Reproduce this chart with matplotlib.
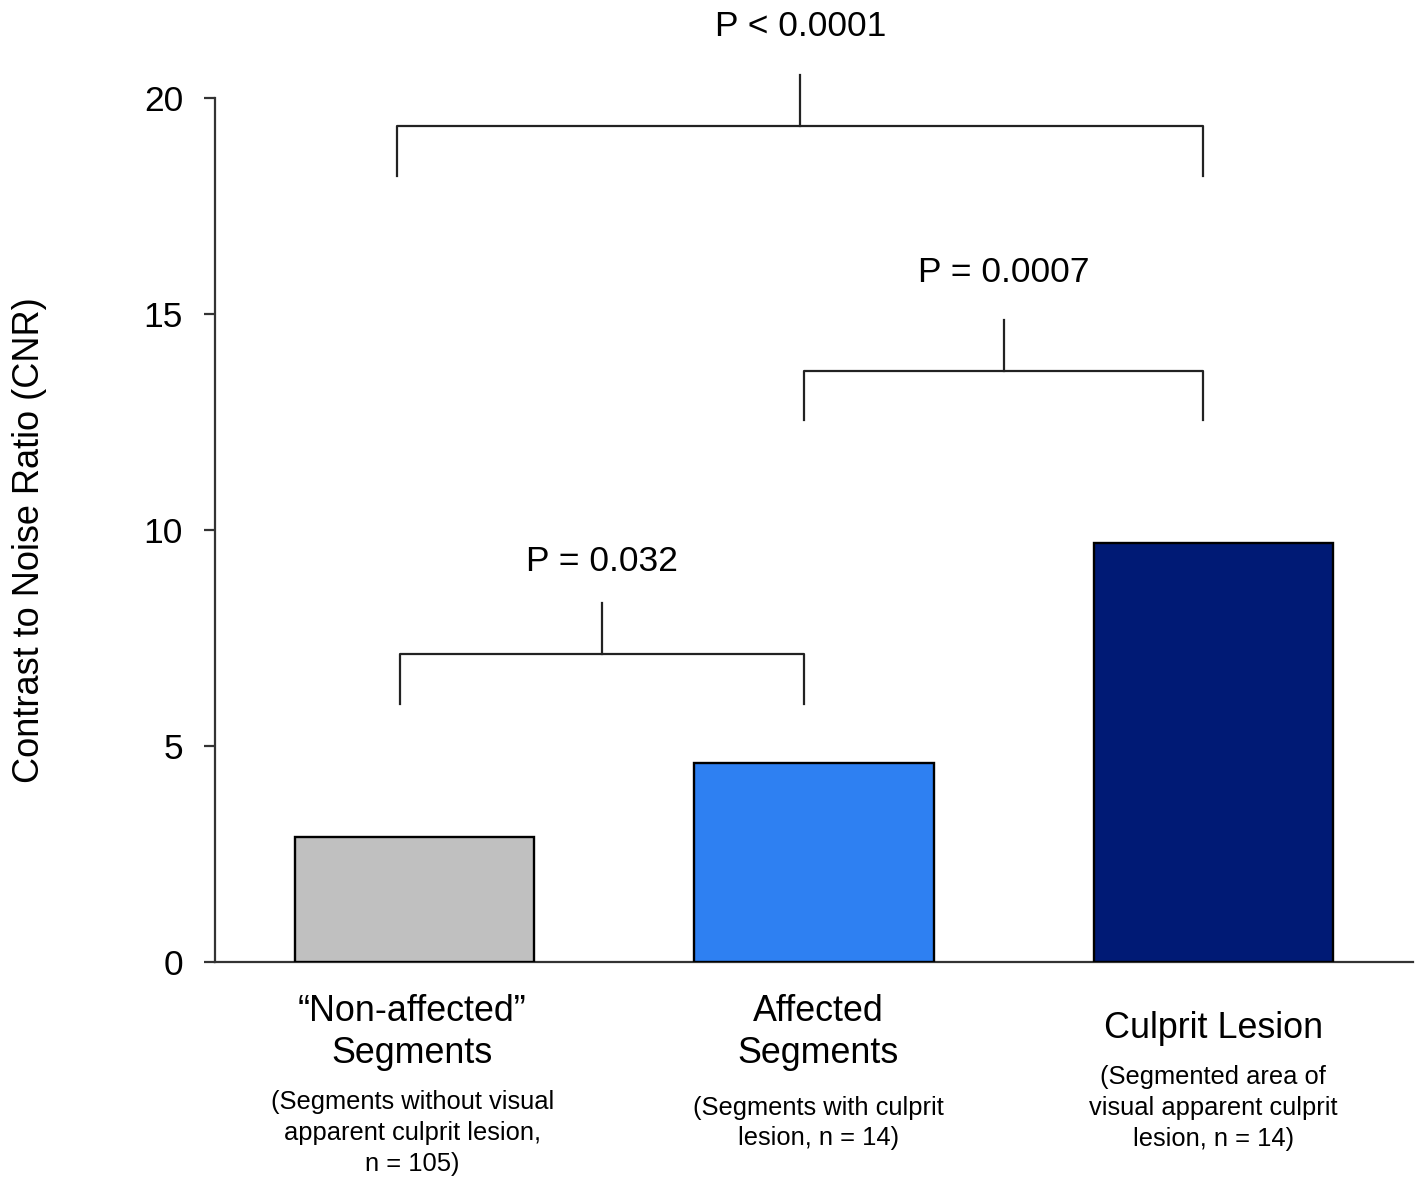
import matplotlib
matplotlib.use("Agg")
import matplotlib.pyplot as plt
from matplotlib.transforms import blended_transform_factory

plt.rcParams['font.family'] = ['Liberation Sans', 'DejaVu Sans']

categories = ['\u201cNon-affected\u201d\nSegments', 'Affected\nSegments', 'Culprit Lesion']
subtitles = ['(Segments without visual\napparent culprit lesion,\nn = 105)',
             '(Segments with culprit\nlesion, n = 14)',
             '(Segmented area of\nvisual apparent culprit\nlesion, n = 14)']
values = [2.9, 4.6, 9.7]
colors = ['#c0c0c0', '#2e80f2', '#001a75']

# significance brackets: (left x, right x, bar y, leg bottom y, top tick y, label y, label)
comparisons = [
    (-0.036, 0.976, 7.13, 5.97, 8.31, 9.26, 'P = 0.032'),
    (0.976, 1.975, 13.68, 12.55, 14.86, 15.97, 'P = 0.0007'),
    (-0.044, 1.975, 19.35, 18.19, 20.53, 21.65, 'P < 0.0001'),
]
yticks = [0, 5, 10, 15, 20]

fig = plt.figure(figsize=(14.19, 11.77), dpi=100)
ax = fig.add_axes([215/1419, 1-962/1177, 1198/1419, 864/1177])

x = list(range(len(values)))
ax.bar(x, values, width=0.6, color=colors, edgecolor='black', linewidth=1.7, zorder=3)

ax.set_xlim(-0.5, 2.5)
ax.set_ylim(0, 20)
ax.set_yticks(yticks)
ax.set_yticklabels([str(t) for t in yticks], fontsize=25.5)
ax.tick_params(axis='y', direction='out', length=8, width=1.6, color='#333333', pad=15)
ax.set_xticks([])
for s in ['top', 'right']:
    ax.spines[s].set_visible(False)
for s in ['left', 'bottom']:
    ax.spines[s].set_linewidth(1.6)
    ax.spines[s].set_color('#333333')

fig.text(30/1419, 1-540/1177, 'Contrast to Noise Ratio (CNR)', rotation=90,
         ha='center', va='center', fontsize=26)

for x1, x2, yb, yl, yt, ylab, lab in comparisons:
    xm = (x1 + x2) / 2
    ax.plot([x1, x1, x2, x2], [yl, yb, yb, yl], color='#222222', lw=1.6, clip_on=False, zorder=4)
    ax.plot([xm, xm], [yb, yt], color='#222222', lw=1.6, clip_on=False, zorder=4)
    ax.text(xm, ylab, lab, ha='center', va='center', fontsize=25.5, clip_on=False)

trans = blended_transform_factory(ax.transData, ax.transAxes)
def yfrac(ypix):
    return (962 - ypix) / 864

label_y = [1032.5, 1032.5, 1028]
sub_y = [1133, 1123, 1108]
label_x = [-0.006, 1.011, 2.0]
for i in range(3):
    ax.text(label_x[i], yfrac(label_y[i]), categories[i], transform=trans, ha='center', va='center',
            fontsize=25.8, linespacing=1.24)
    ax.text(label_x[i], yfrac(sub_y[i]), subtitles[i], transform=trans, ha='center', va='center',
            fontsize=18.4, linespacing=1.36)

fig.savefig('out.png', dpi=100)
